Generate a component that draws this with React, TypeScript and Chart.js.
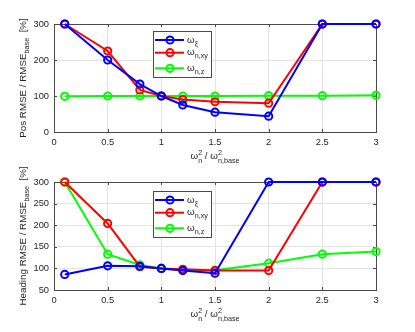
import React, { useEffect, useRef } from "react";
import { Chart, registerables } from "chart.js";
Chart.register(...registerables);

const xValues = [0.1, 0.5, 0.8, 1, 1.2, 1.5, 2, 2.5, 3];
const posXi = [300, 200, 133, 100, 75, 55, 44, 300, 300];
const posNxy = [300, 225, 117, 100, 90, 84, 80, 300, 300];
const posNz = [99, 100, 100, 100, 100, 100, 101, 101, 102];
const headXi = [86, 106, 105, 100, 95, 89, 300, 300, 300];
const headNxy = [300, 204, 104, 100, 98, 95, 95, 300, 300];
const headNz = [300, 133, 108, 100, 96, 96, 112, 133, 139];
const legendSubs = ["ξ", "n,xy", "n,z"];
const seriesColors = ["#0000ff", "#ff0000", "#00ff00"];

const FONT = "'Liberation Sans', Arial, Helvetica, sans-serif";
const TXT = "#262626";
const GRID = "#e3e3e3";
const AXIS = "#4a4a4a";

type Cfg = {
  values: number[][];
  yMin: number;
  yMax: number;
  yStep: number;
  padTop: number;
  xH: number;
  yTitle: string;
  legendTop: number;
};

function font(size: number) {
  return `${size}px ${FONT}`;
}

function fmt(v: any) {
  return String(Number(Number(v).toFixed(3)));
}

function framePlugin(cfg: Cfg) {
  return {
    id: "frame",
    beforeDatasetsDraw(chart: any) {
      const ctx = chart.ctx;
      const a = chart.chartArea;
      const xs = chart.scales.x;
      const ys = chart.scales.y;
      ctx.save();
      ctx.strokeStyle = AXIS;
      ctx.lineWidth = 1;
      ctx.strokeRect(Math.round(a.left) + 0.5, Math.round(a.top) + 0.5, Math.round(a.right - a.left), Math.round(a.bottom - a.top));
      ctx.beginPath();
      const tl = 3;
      xs.ticks.forEach((t: any) => {
        const px = Math.round(xs.getPixelForValue(t.value)) + 0.5;
        ctx.moveTo(px, a.bottom);
        ctx.lineTo(px, a.bottom - tl);
        ctx.moveTo(px, a.top);
        ctx.lineTo(px, a.top + tl);
      });
      ys.ticks.forEach((t: any) => {
        const py = Math.round(ys.getPixelForValue(t.value)) + 0.5;
        ctx.moveTo(a.left, py);
        ctx.lineTo(a.left + tl, py);
        ctx.moveTo(a.right, py);
        ctx.lineTo(a.right - tl, py);
      });
      ctx.stroke();
      ctx.restore();
    },
    afterDraw(chart: any) {
      const ctx = chart.ctx;
      const a = chart.chartArea;
      ctx.save();
      ctx.fillStyle = TXT;
      ctx.textBaseline = "alphabetic";
      ctx.textAlign = "left";

      // Y title (rotated)
      const mainSize = 9.8;
      const subSize = 7.2;
      ctx.save();
      ctx.translate(25.5, (a.top + a.bottom) / 2);
      ctx.rotate(-Math.PI / 2);
      ctx.font = font(mainSize);
      const w1 = ctx.measureText(cfg.yTitle).width;
      ctx.font = font(subSize);
      const w2 = ctx.measureText("base").width;
      ctx.font = font(mainSize);
      const w3 = ctx.measureText("  [%]").width;
      let x = -(w1 + w2 + w3) / 2;
      ctx.fillText(cfg.yTitle, x, 0);
      x += w1;
      ctx.font = font(subSize);
      ctx.fillText("base", x, 3);
      x += w2;
      ctx.font = font(mainSize);
      ctx.fillText("  [%]", x, 0);
      ctx.restore();

      // X title
      const base = a.bottom + 27;
      ctx.font = font(mainSize);
      const wo = ctx.measureText("ω").width;
      const wsl = ctx.measureText(" / ω").width;
      ctx.font = font(subSize);
      const wn = Math.max(ctx.measureText("2").width, ctx.measureText("n").width);
      const wnb = Math.max(ctx.measureText("2").width, ctx.measureText("n,base").width);
      const total = wo + wn + wsl + wnb;
      let xx = (a.left + a.right) / 2 - total / 2;
      ctx.font = font(mainSize);
      ctx.fillText("ω", xx, base);
      xx += wo;
      ctx.font = font(subSize);
      ctx.fillText("2", xx, base - 4.5);
      ctx.fillText("n", xx, base + 4);
      xx += wn;
      ctx.font = font(mainSize);
      ctx.fillText(" / ω", xx, base);
      xx += wsl;
      ctx.font = font(subSize);
      ctx.fillText("2", xx, base - 4.5);
      ctx.fillText("n,base", xx, base + 4);

      // Legend
      const lx = 153;
      const ly = cfg.legendTop;
      const lw = 58;
      const lh = 46;
      ctx.fillStyle = "#ffffff";
      ctx.fillRect(lx, ly, lw, lh);
      ctx.strokeStyle = AXIS;
      ctx.lineWidth = 1;
      ctx.strokeRect(lx + 0.5, ly + 0.5, lw, lh);
      const rows = [9, 21.7, 37.3];
      rows.forEach((ry, i) => {
        const y = ly + ry;
        ctx.strokeStyle = seriesColors[i];
        ctx.lineWidth = 2;
        ctx.beginPath();
        ctx.moveTo(lx + 2, y);
        ctx.lineTo(lx + 31, y);
        ctx.stroke();
        ctx.beginPath();
        ctx.arc(lx + 17, y, 3.6, 0, Math.PI * 2);
        ctx.stroke();
        ctx.fillStyle = TXT;
        ctx.font = font(mainSize);
        ctx.fillText("ω", lx + 34, y + 2.5);
        const ow = ctx.measureText("ω").width;
        ctx.font = font(subSize);
        ctx.fillText(legendSubs[i], lx + 34 + ow, y + 5.5);
      });
      ctx.restore();
    },
  };
}

function makeChart(canvas: HTMLCanvasElement, cfg: Cfg) {
  const labels = ["ω_ξ", "ω_n,xy", "ω_n,z"];
  return new Chart(canvas, {
    type: "line",
    data: {
      datasets: cfg.values.map((vals, i) => ({
        label: labels[i],
        data: xValues.map((x, j) => ({ x, y: vals[j] })),
        borderColor: seriesColors[i],
        backgroundColor: "rgba(0,0,0,0)",
        borderWidth: 2,
        pointRadius: 3.6,
        pointBorderWidth: 2,
        pointBackgroundColor: "rgba(0,0,0,0)",
        pointBorderColor: seriesColors[i],
        tension: 0,
        clip: false,
      })),
    },
    options: {
      responsive: false,
      animation: false,
      devicePixelRatio: 1,
      events: [],
      layout: { padding: { left: 0, right: 39, top: cfg.padTop, bottom: 0 } },
      plugins: { legend: { display: false }, tooltip: { enabled: false } },
      scales: {
        x: {
          type: "linear",
          min: 0,
          max: 3,
          ticks: { stepSize: 0.5, color: TXT, font: { family: FONT, size: 9.3 }, padding: 5, maxRotation: 0, callback: fmt },
          grid: { color: GRID, drawTicks: false },
          border: { display: false },
          afterFit: (s: any) => {
            s.height = cfg.xH;
          },
        },
        y: {
          type: "linear",
          min: cfg.yMin,
          max: cfg.yMax,
          ticks: { stepSize: cfg.yStep, color: TXT, font: { family: FONT, size: 9.3 }, padding: 5, callback: fmt },
          grid: { color: GRID, drawTicks: false },
          border: { display: false },
          afterFit: (s: any) => {
            s.width = 54;
          },
        },
      },
    } as any,
    plugins: [framePlugin(cfg)],
  });
}

function Panel({ cfg }: { cfg: Cfg }) {
  const ref = useRef<HTMLCanvasElement>(null);
  useEffect(() => {
    const c = makeChart(ref.current!, cfg);
    return () => c.destroy();
  }, []);
  return <canvas ref={ref} width={415} height={166} style={{ display: "block", width: 415, height: 166 }} />;
}

const topCfg: Cfg = {
  values: [posXi, posNxy, posNz],
  yMin: 0,
  yMax: 300,
  yStep: 100,
  padTop: 24,
  xH: 34,
  yTitle: "Pos RMSE / RMSE",
  legendTop: 31,
};

const bottomCfg: Cfg = {
  values: [headXi, headNxy, headNz],
  yMin: 50,
  yMax: 300,
  yStep: 50,
  padTop: 16,
  xH: 42,
  yTitle: "Heading RMSE / RMSE",
  legendTop: 25,
};

export default function App() {
  return (
    <div style={{ position: "fixed", left: 0, top: 0, width: 415, height: 332, background: "#fff" }}>
      <Panel cfg={topCfg} />
      <Panel cfg={bottomCfg} />
    </div>
  );
}
